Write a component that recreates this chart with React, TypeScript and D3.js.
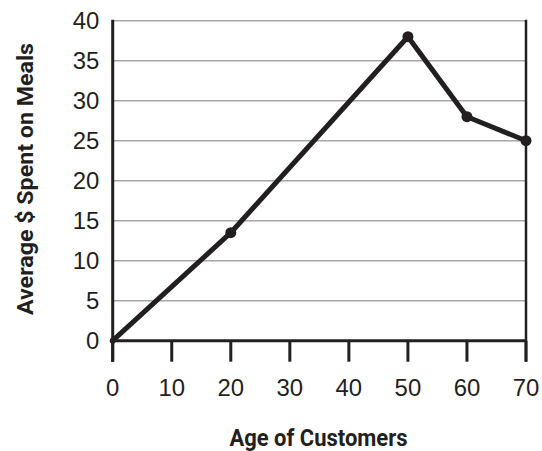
import React from "react";
import * as d3 from "d3";

const ages = [0, 20, 50, 60, 70];
const spent = [0, 13.5, 38, 28, 25];
const xTicks = [0, 10, 20, 30, 40, 50, 60, 70];
const yTicks = [0, 5, 10, 15, 20, 25, 30, 35, 40];
const xTitle = "Age of Customers";
const yTitle = "Average $ Spent on Meals";

export default function App() {
  const W = 542, H = 451;
  const x = d3.scaleLinear().domain([0, 70]).range([112.7, 526]);
  const y = d3.scaleLinear().domain([0, 40]).range([340.7, 20.7]);
  const ink = "#231f20";
  const pts = ages.map((a, i) => [a, spent[i]] as [number, number]);
  const line = d3.line<[number, number]>().x(d => x(d[0])).y(d => y(d[1]));
  const tickFont = "'Liberation Sans', Arial, sans-serif";
  const labFont = "Roboto, 'Liberation Sans', sans-serif";
  const tl = (t: number) => String(t).length * 13.3;
  return (
    <svg width={W} height={H} style={{ position: "absolute", left: 0, top: 0, background: "#fff" }}>
      {yTicks.filter(t => t > 0).map(t => (
        <line key={"g" + t} x1={x(0)} x2={x(70)} y1={y(t)} y2={y(t)} stroke="#a7a7a7" strokeWidth={1.5} />
      ))}
      {xTicks.map(t => (
        <line key={"xt" + t} x1={x(t)} x2={x(t)} y1={y(0)} y2={y(0) + 21} stroke={ink} strokeWidth={3} />
      ))}
      <line x1={x(0)} x2={x(0)} y1={y(40) - 1} y2={y(0) + 21} stroke={ink} strokeWidth={3} />
      <line x1={x(70)} x2={x(70)} y1={y(40) - 1} y2={y(0) + 21} stroke={ink} strokeWidth={2.5} />
      <line x1={x(0) - 1} x2={x(70) + 1} y1={y(0)} y2={y(0)} stroke={ink} strokeWidth={3} />
      {yTicks.map(t => (
        <text key={"yl" + t} x={99.3} y={y(t) + 8.6} textAnchor="end" fontFamily={tickFont} fontSize={23.5} fill={ink}
          textLength={tl(t)} lengthAdjust="spacingAndGlyphs">
          {t}
        </text>
      ))}
      {xTicks.map(t => (
        <text key={"xl" + t} x={x(t)} y={395.5} textAnchor="middle" fontFamily={tickFont} fontSize={23.5} fill={ink}
          textLength={tl(t)} lengthAdjust="spacingAndGlyphs">
          {t}
        </text>
      ))}
      <path d={line(pts) || ""} fill="none" stroke={ink} strokeWidth={5} strokeLinejoin="round" strokeLinecap="round" />
      {pts.map((p, i) => (
        <circle key={"p" + i} cx={x(p[0])} cy={y(p[1])} r={i === 0 ? 3 : 5.5} fill={ink} />
      ))}
      <text x={318.5} y={445.5} textAnchor="middle" fontFamily={labFont} fontWeight={700} fontSize={23} fill={ink}
        textLength={178} lengthAdjust="spacingAndGlyphs">
        {xTitle}
      </text>
      <text transform={`translate(32.5, ${179}) rotate(-90)`} textAnchor="middle" fontFamily={labFont} fontWeight={700}
        fontSize={21.5} fill={ink} textLength={272} lengthAdjust="spacingAndGlyphs">
        {yTitle}
      </text>
    </svg>
  );
}
